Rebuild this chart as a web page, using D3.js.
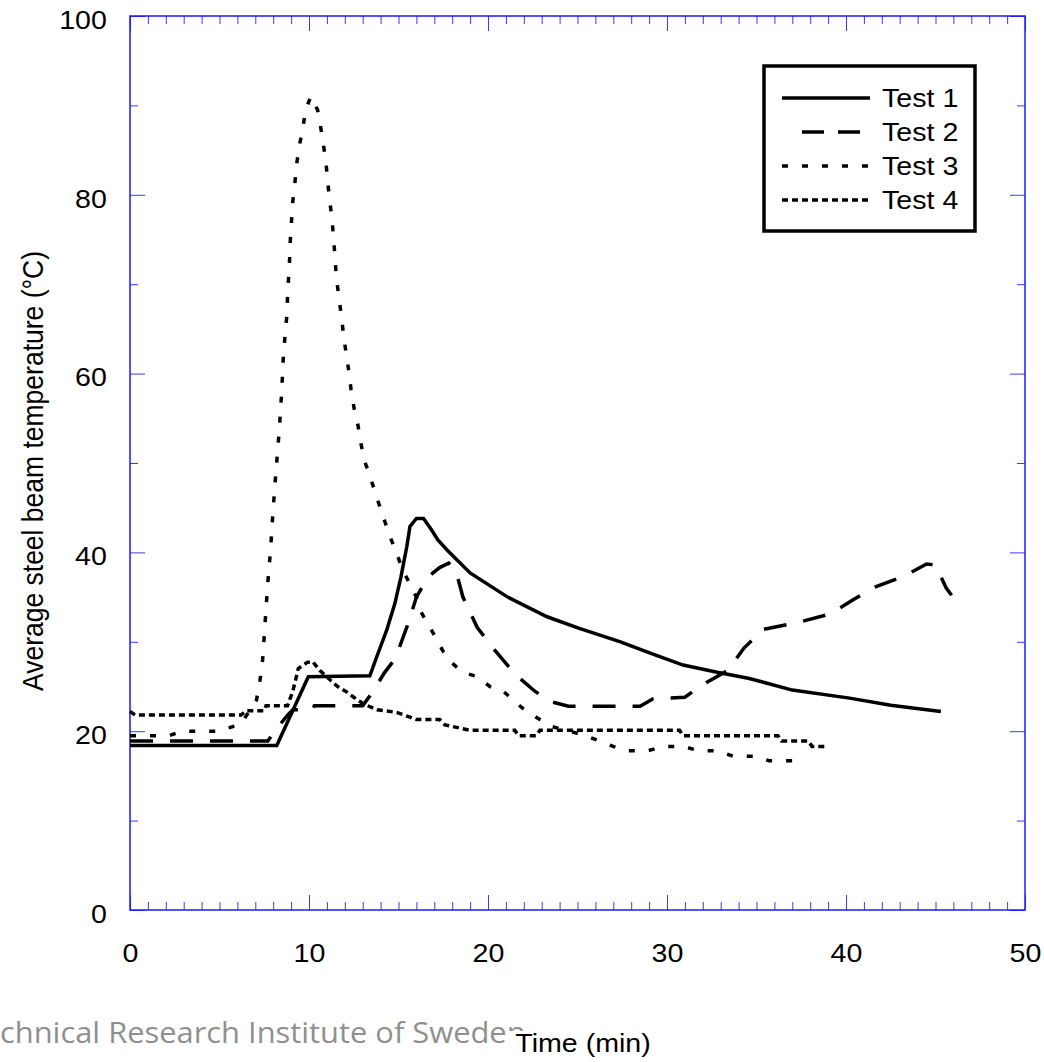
<!DOCTYPE html>
<html>
<head>
<meta charset="utf-8">
<script src="https://cdn.jsdelivr.net/npm/d3@7"></script>
<style>
  body { margin: 0; background: #fff; }
  svg { display: block; font-family: "Liberation Sans", Arial, sans-serif; }
</style>
</head>
<body>
<svg id="chart" width="1044" height="1062"></svg>
<script>
// [time (min), temperature (°C)]
const test1 = [
  [0, 18.4], [8.2, 18.4], [9.96, 26.1], [13.4, 26.2], [13.78, 28.3], [14.34, 31.3],
  [14.8, 34.3], [15.14, 37.3], [15.46, 40.6], [15.64, 42.9], [16.0, 43.8], [16.4, 43.8],
  [16.85, 42.5], [17.2, 41.4], [17.7, 40.3], [19.0, 37.7], [21.1, 35.0], [23.3, 32.8],
  [25.1, 31.5], [27.4, 30.0], [29.1, 28.7], [30.9, 27.4], [32.8, 26.6], [34.6, 25.9],
  [37.0, 24.6], [40.2, 23.7], [42.5, 22.9], [45.3, 22.2]
];
const test2 = [
  [0, 18.9], [7.7, 18.9], [8.2, 20.3], [8.8, 21.8], [9.1, 22.4], [10.2, 22.4], [10.3, 22.85],
  [13.0, 22.85], [13.6, 24.5], [14.2, 26.5], [14.7, 27.8], [15.0, 29.1], [15.55, 32.1],
  [16.0, 35.0], [16.67, 37.3], [17.3, 38.3], [17.8, 38.8], [18.2, 38.0], [18.6, 35.0],
  [19.4, 31.6], [20.4, 29.0], [21.5, 26.4], [22.6, 24.5], [23.5, 23.3], [24.5, 22.8],
  [28.5, 22.8], [29.2, 23.6], [31.0, 23.8], [31.9, 25.1], [33.4, 26.8], [34.3, 29.3],
  [35.4, 31.4], [37.4, 32.2], [39.1, 33.1], [40.4, 34.7], [41.6, 36.1], [43.3, 37.4],
  [44.5, 38.7], [45.0, 38.6], [45.6, 36.0], [45.9, 35.2]
];
const test3 = [
  [0, 19.5], [2.2, 19.5], [2.9, 20.0], [5.0, 20.0], [5.4, 20.3], [6.2, 20.8], [7.07, 23.5],
  [7.26, 25.7], [7.41, 28.0], [7.54, 31.9], [7.69, 36.4], [7.86, 40.5], [8.0, 44.9],
  [8.16, 49.2], [8.34, 53.7], [8.47, 57.8], [8.57, 62.0], [8.66, 64.2], [8.75, 66.2],
  [8.8, 68.5], [8.86, 70.7], [8.92, 72.9], [8.96, 75.1], [9.03, 77.3], [9.09, 79.2],
  [9.22, 81.5], [9.31, 83.4], [9.46, 85.5], [9.65, 87.3], [9.8, 89.4], [10.1, 91.0],
  [10.48, 89.5], [10.65, 87.6], [10.82, 85.4], [10.95, 83.6], [11.04, 81.5], [11.17, 79.2],
  [11.28, 77.3], [11.38, 75.1], [11.45, 72.9], [11.54, 70.6], [11.68, 68.4], [11.8, 66.6],
  [11.92, 64.5], [12.07, 62.3], [12.23, 60.2], [12.35, 58.2], [12.53, 56.0], [12.72, 54.4],
  [12.89, 52.3], [13.09, 50.3], [13.41, 48.5], [13.7, 46.7], [13.99, 44.9], [14.28, 43.2],
  [14.56, 41.6], [14.9, 39.9], [15.2, 38.2], [15.6, 36.6], [16.0, 35.0], [16.24, 33.4],
  [16.7, 31.8], [17.1, 30.4], [17.5, 28.9], [18.0, 27.6], [18.6, 26.6], [19.4, 26.1],
  [20.1, 25.0], [20.9, 24.4], [21.5, 23.3], [22.1, 22.3], [22.9, 21.3], [23.6, 20.5],
  [25.3, 19.6], [26.1, 19.0], [27.0, 18.3], [27.8, 17.8], [28.9, 17.8], [29.8, 18.3],
  [30.9, 18.3], [31.8, 17.8], [32.8, 17.8], [33.7, 17.2], [34.8, 17.2], [35.7, 16.7],
  [37.0, 16.7]
];
const test4 = [
  [0, 22.2], [0.3, 21.8], [6.2, 21.8], [6.5, 22.3], [7.5, 22.3], [7.6, 22.85], [8.8, 22.85],
  [9.1, 24.5], [9.4, 27.0], [9.9, 27.7], [10.2, 27.8], [10.6, 26.8], [11.2, 25.7],
  [11.6, 25.0], [12.1, 24.4], [12.7, 23.5], [13.1, 23.0], [13.8, 22.4], [14.9, 22.1],
  [15.6, 21.6], [16.0, 21.3], [17.3, 21.3], [17.6, 20.7], [19.0, 20.1], [21.5, 20.1],
  [21.7, 19.5], [22.7, 19.5], [22.9, 20.1], [30.7, 20.1], [30.9, 19.5], [36.2, 19.5],
  [36.4, 18.9], [37.9, 18.9], [38.1, 18.3], [39.0, 18.3]
];

const seriesNames = ["Test 1", "Test 2", "Test 3", "Test 4"];
const seriesData = [test1, test2, test3, test4];
const dashes = [null, "23,17", "6,14", "6,4"];
const legendDashes = [null, "22,14", "6,14", "6,4"];

const xTicks = d3.range(0, 51, 10);
const xMinorTicks = d3.range(0, 51, 1);
const yTicks = d3.range(0, 101, 20);
const yMinorTicks = d3.range(10, 100, 20);

const plotLeft = 130, plotRight = 1025, plotTop = 16, plotBottom = 910;
const stretch = "scale(1.1,1)"; // the reference text is a little wide

const svg = d3.select("#chart");

const x = d3.scaleLinear().domain([0, 50]).range([plotLeft, plotRight]);
const y = d3.scaleLinear().domain([0, 100]).range([plotBottom, plotTop]);

// tick marks on all four sides, pointing inward
function ticks(axis, size, values, transform) {
  const g = svg.append("g")
    .attr("transform", transform)
    .call(axis.tickValues(values).tickSize(size).tickFormat(""));
  g.select(".domain").remove();
  g.selectAll("line").attr("stroke", "#3a3aff").attr("stroke-width", 1);
}
ticks(d3.axisTop(x), 8, xMinorTicks, `translate(0,${plotBottom})`);
ticks(d3.axisTop(x), 15, xTicks, `translate(0,${plotBottom})`);
ticks(d3.axisBottom(x), 8, xMinorTicks, `translate(0,${plotTop})`);
ticks(d3.axisBottom(x), 15, xTicks, `translate(0,${plotTop})`);
ticks(d3.axisRight(y), 8, yMinorTicks, `translate(${plotLeft},0)`);
ticks(d3.axisRight(y), 15, yTicks, `translate(${plotLeft},0)`);
ticks(d3.axisLeft(y), 8, yMinorTicks, `translate(${plotRight},0)`);
ticks(d3.axisLeft(y), 15, yTicks, `translate(${plotRight},0)`);

svg.append("rect")
  .attr("x", plotLeft).attr("y", plotTop)
  .attr("width", plotRight - plotLeft).attr("height", plotBottom - plotTop)
  .attr("fill", "none").attr("stroke", "#1a1aff").attr("stroke-width", 1.5);

// tick labels
const xLabels = svg.append("g")
  .attr("transform", `translate(0,${plotBottom})`)
  .call(d3.axisBottom(x).tickValues(xTicks).tickSize(0).tickPadding(34));
xLabels.select(".domain").remove();
xLabels.selectAll("text")
  .attr("font-size", 26).attr("font-family", "Liberation Sans, Arial, sans-serif")
  .attr("fill", "#000").attr("transform", stretch);

const yLabels = svg.append("g")
  .attr("transform", `translate(${plotLeft},0)`)
  .call(d3.axisLeft(y).tickValues(yTicks).tickSize(0).tickPadding(21));
yLabels.select(".domain").remove();
yLabels.selectAll("text")
  .attr("font-size", 26).attr("font-family", "Liberation Sans, Arial, sans-serif")
  .attr("fill", "#000").attr("dy", "0.47em").attr("transform", stretch);

// lines
const line = d3.line().x((d) => x(d[0])).y((d) => y(d[1]));
seriesData.forEach((data, i) => {
  svg.append("path")
    .datum(data)
    .attr("d", line)
    .attr("fill", "none")
    .attr("stroke", "#000")
    .attr("stroke-width", 3.5)
    .attr("stroke-dasharray", dashes[i]);
});

// legend
const legend = svg.append("g");
legend.append("rect")
  .attr("x", 764).attr("y", 66).attr("width", 211).attr("height", 165)
  .attr("fill", "#fff").attr("stroke", "#000").attr("stroke-width", 3.5);
seriesNames.forEach((name, i) => {
  const ly = 98 + i * 34;
  legend.append("line")
    .attr("x1", i === 1 ? 802 : 782).attr("x2", i === 1 ? 866 : 870)
    .attr("y1", ly).attr("y2", ly)
    .attr("stroke", "#000").attr("stroke-width", 3.5)
    .attr("stroke-dasharray", legendDashes[i]);
  legend.append("text")
    .attr("transform", `translate(882,${ly + 9}) ${stretch}`)
    .attr("font-size", 26)
    .text(name);
});

// watermark left over from the source page, cut at the left edge
const mark = svg.append("text")
  .attr("font-family", "Open Sans, sans-serif")
  .attr("font-size", 29)
  .attr("fill", "#8f8f8f")
  .text("Technical Research Institute of Sweden");
const node = mark.node();
const n = node.textContent.length;
const cut = node.getSubStringLength(0, 2);
const shown = node.getSubStringLength(2, n - 3);
const sx = 507 / shown;
mark.attr("transform", `translate(${-cut * sx},1043) scale(${sx},1)`);

// axis titles
svg.append("rect")
  .attr("x", 508).attr("y", 1031).attr("width", 150).attr("height", 31)
  .attr("fill", "#fff");
svg.append("text")
  .attr("transform", `translate(583,1052) ${stretch}`)
  .attr("text-anchor", "middle")
  .attr("font-size", 26)
  .text("Time (min)");

svg.append("text")
  .attr("transform", `translate(43,471) ${stretch} rotate(-90)`)
  .attr("text-anchor", "middle")
  .attr("font-size", 26.5)
  .text("Average steel beam temperature (°C)");
</script>
</body>
</html>
